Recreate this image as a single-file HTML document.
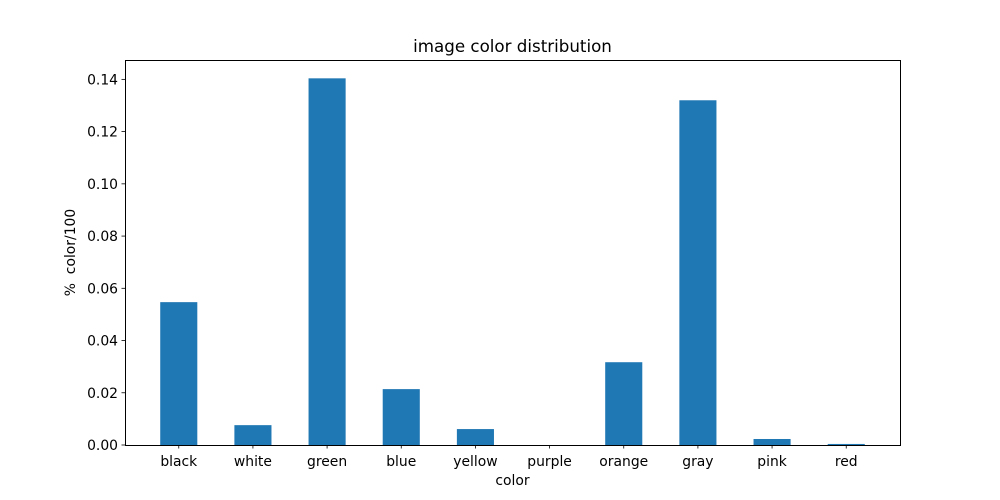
<!DOCTYPE html>
<html><head><meta charset="utf-8"><style>
body{margin:0;background:#fff;}
svg{display:block;font-family:"DejaVu Sans","Liberation Sans",sans-serif;}
text{white-space:pre;}
</style></head><body>
<svg id="chart" width="1000" height="500">
<rect width="1000" height="500" fill="#fff"/>
</svg>
<script>
const categories=["black","white","green","blue","yellow","purple","orange","gray","pink","red"];
const values=[0.0547,0.0076,0.1404,0.0214,0.0061,0.0,0.0317,0.132,0.0023,0.0004];
const yTicks=[0,0.02,0.04,0.06,0.08,0.10,0.12,0.14];
const yTickLabels=["0.00","0.02","0.04","0.06","0.08","0.10","0.12","0.14"];
const NS="http://www.w3.org/2000/svg";
const svg=document.getElementById('chart');
const L=125,R=900,T=60,B=445;
const ymax=Math.max(...values)*1.05;
const xmin=-0.25-0.05*(categories.length-0.5), xmax=categories.length-1+0.25+0.05*(categories.length-0.5);
const sx=v=>L+(v-xmin)/(xmax-xmin)*(R-L);
const sy=v=>B-v/ymax*(B-T);
function mk(tag,attrs,parent){const e=document.createElementNS(NS,tag);for(const k in attrs)e.setAttribute(k,attrs[k]);(parent||svg).appendChild(e);return e;}
values.forEach((v,i)=>{
  const r=mk('rect',{x:sx(i-0.25),y:sy(v),width:sx(i+0.25)-sx(i-0.25),height:B-sy(v),fill:'#1f77b4'});
  
  
  const t=mk('line',{x1:sx(i),x2:sx(i),y1:B,y2:B+3.5,stroke:'#000','stroke-width':0.8});
  
  
  const lb=mk('text',{x:sx(i),y:B+21,'text-anchor':'middle','font-size':13.9});
  lb.textContent=categories[i];
  
  
});
yTicks.forEach((v,i)=>{
  const t=mk('line',{x1:L-3.5,x2:L,y1:sy(v),y2:sy(v),stroke:'#000','stroke-width':0.8});
  
  
  const lb=mk('text',{x:L-7,y:sy(v)+5,'text-anchor':'end','font-size':13.9});
  lb.textContent=yTickLabels[i];
  
  
});
const frame=mk('rect',{x:L+0.5,y:T+0.5,width:R-L,height:B-T,fill:'none',stroke:'#000','stroke-width':1});


const title=mk('text',{x:(L+R)/2,y:T-8,'text-anchor':'middle','font-size':16.7});
title.textContent='image color distribution';


const xt=mk('text',{x:(L+R)/2,y:485,'text-anchor':'middle','font-size':13.9});
xt.textContent='color';


const yt=mk('text',{x:0,y:0,'text-anchor':'middle','font-size':13.9,transform:'translate(75,'+((T+B)/2)+') rotate(-90)'});
yt.textContent='%  color/100';


</script>
</body></html>
